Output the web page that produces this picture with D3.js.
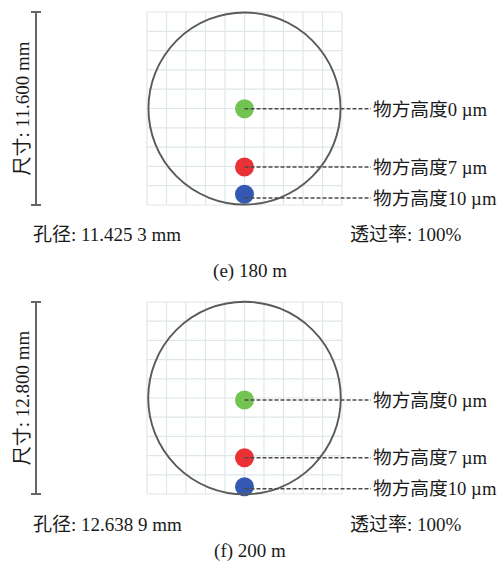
<!DOCTYPE html>
<html>
<head>
<meta charset="utf-8">
<script src="https://cdn.jsdelivr.net/npm/d3@7"></script>
<style>
  html, body { margin: 0; padding: 0; background: #fff; }
  svg { display: block; }
  text { font-family: "Liberation Serif", "Noto Sans CJK SC", serif; fill: #1a1a1a; }
</style>
</head>
<body>
<svg id="chart" width="502" height="561"></svg>
<script>
// Spot diagrams for two focal-plane configurations
const panelCaptions = ["(e) 180 m", "(f) 200 m"];
const detectorSizes = [11.600, 12.800];          // mm, side of the square field
const apertureDiameters = [11.4253, 12.6389];    // mm
const apertureLabels = ["11.425 3", "12.638 9"];
const transmittance = ["100%", "100%"];
const objectHeights = [0, 7, 10];                // µm
const spotColors = ["#6cc04a", "#e8262b", "#2a4fae"];
// image-plane spot centres (mm from field centre, downward positive)
const spotOffsets = [
  [0.02, 3.52, 5.15],
  [0.13, 3.98, 5.92]
];

const svg = d3.select("#chart");
const layout = [
  { top: 12, bottom: 205, textY: 234, captionY: 270 },
  { top: 302, bottom: 494, textY: 524, captionY: 550 }
];
const gridLeft = 147, gridRight = 342;
const labelX = 373;
const fontSize = 19;
const labelFontSize = 18.7;

panelCaptions.forEach((caption, p) => {
  const L = layout[p];
  const half = detectorSizes[p] / 2;
  const x = d3.scaleLinear().domain([-half, half]).range([gridLeft, gridRight]);
  const y = d3.scaleLinear().domain([-half, half]).range([L.top, L.bottom]);
  const g = svg.append("g");

  // background grid: 10 x 10 cells
  const step = detectorSizes[p] / 10;
  const gridVals = d3.range(11).map(i => -half + i * step);
  g.selectAll("line.vg").data(gridVals).join("line")
    .attr("x1", d => x(d)).attr("x2", d => x(d))
    .attr("y1", y(-half)).attr("y2", y(half))
    .attr("stroke", "#dfe7ea").attr("stroke-width", 1.2);
  g.selectAll("line.hg").data(gridVals).join("line")
    .attr("y1", d => y(d)).attr("y2", d => y(d))
    .attr("x1", x(-half)).attr("x2", x(half))
    .attr("stroke", "#dfe7ea").attr("stroke-width", 1.2);

  // spots
  const spots = objectHeights.map((h, i) => ({
    h, color: spotColors[i], cy: y(spotOffsets[p][i])
  }));
  g.selectAll("circle.spot").data(spots).join("circle")
    .attr("cx", x(0)).attr("cy", d => d.cy)
    .attr("r", 9.5).attr("fill", d => d.color).attr("opacity", 0.95);

  // aperture circle
  g.append("circle")
    .attr("cx", x(0)).attr("cy", y(0))
    .attr("r", x(apertureDiameters[p] / 2) - x(0))
    .attr("fill", "none").attr("stroke", "#5a5a5a").attr("stroke-width", 1.9);

  // leader lines and labels
  let prev = -Infinity;
  spots.forEach(s => {
    s.ly = Math.max(s.cy, prev + 31);
    prev = s.ly;
  });
  g.selectAll("line.lead").data(spots).join("line")
    .attr("x1", x(0)).attr("x2", labelX - 2)
    .attr("y1", d => d.ly).attr("y2", d => d.ly)
    .attr("stroke", "#4a4a4a").attr("stroke-width", 1.5)
    .attr("stroke-dasharray", "4,2");
  g.selectAll("text.lab").data(spots).join("text")
    .attr("x", labelX).attr("y", d => d.ly).attr("dy", "0.36em")
    .attr("font-size", labelFontSize)
    .text(d => `物方高度${d.h} µm`);

  // scale bar for the field size
  const barX = 36;
  g.append("line").attr("x1", barX).attr("x2", barX)
    .attr("y1", y(-half)).attr("y2", y(half))
    .attr("stroke", "#666").attr("stroke-width", 2);
  [-half, half].forEach(v => g.append("line")
    .attr("x1", barX - 5).attr("x2", barX + 5)
    .attr("y1", y(v)).attr("y2", y(v))
    .attr("stroke", "#666").attr("stroke-width", 2));
  g.append("text")
    .attr("transform", `translate(22,${y(0)}) rotate(-90)`)
    .attr("text-anchor", "middle").attr("dy", "0.36em")
    .attr("font-size", fontSize)
    .text(`尺寸: ${detectorSizes[p].toFixed(3)} mm`);

  // aperture and transmittance readouts
  g.append("text").attr("x", 33).attr("y", L.textY).attr("dy", "0.36em")
    .attr("font-size", fontSize)
    .text(`孔径: ${apertureLabels[p]} mm`);
  g.append("text").attr("x", 350).attr("y", L.textY).attr("dy", "0.36em")
    .attr("font-size", fontSize)
    .text(`透过率: ${transmittance[p]}`);
  g.append("text").attr("x", 250).attr("y", L.captionY).attr("dy", "0.36em")
    .attr("text-anchor", "middle").attr("font-size", fontSize)
    .text(caption);
});
</script>
</body>
</html>
